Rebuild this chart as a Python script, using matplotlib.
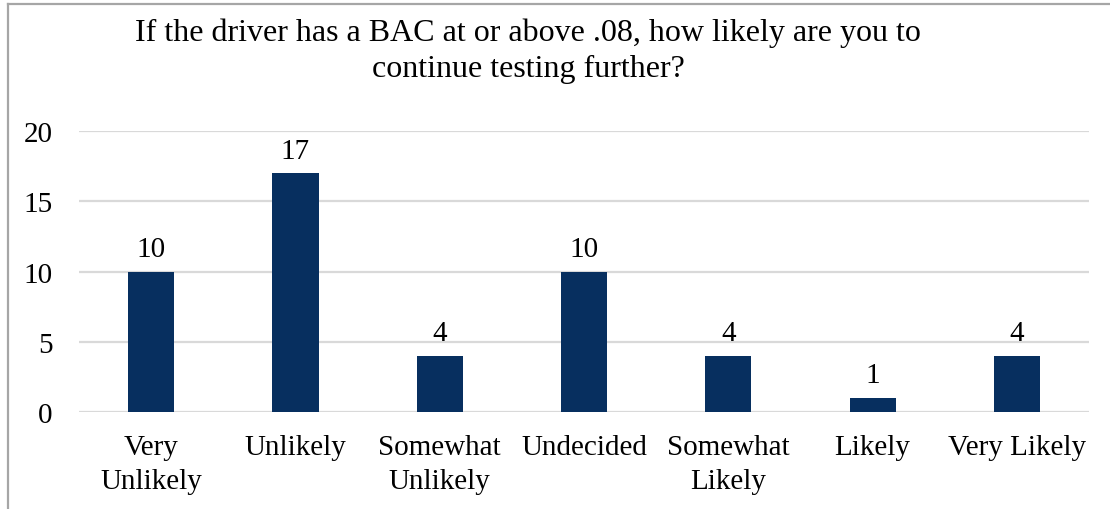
import matplotlib
matplotlib.use("Agg")
import matplotlib.pyplot as plt
from matplotlib.lines import Line2D

# ============================================
# DATOS
# ============================================

categorias = ["Very\nUnlikely", "Unlikely", "Somewhat\nUnlikely", "Undecided",
              "Somewhat\nLikely", "Likely", "Very Likely"]
valores = [10, 17, 4, 10, 4, 1, 4]
yticks = [0, 5, 10, 15, 20]

titulo = ("If the driver has a BAC at or above .08, how likely are you to\n"
          "continue testing further?")

# ============================================
# FIGURA
# ============================================

plt.rcParams["font.family"] = ["Liberation Serif", "DejaVu Serif"]

fig = plt.figure(figsize=(11.1, 5.1), dpi=100)
ax = fig.add_axes([0.0712, 0.190, 0.910, 0.551])

x = range(len(categorias))
bars = ax.bar(x, valores, width=0.32, color="#072F5F", zorder=3)

for b, v in zip(bars, valores):
    ax.annotate(str(v), (b.get_x() + b.get_width() / 2, v),
                xytext=(0, 7), textcoords="offset points",
                ha="center", va="bottom", fontsize=21, color="#000000")

ax.set_xlim(-0.5, len(categorias) - 0.5)
ax.set_ylim(0, 20)
ax.set_yticks(yticks)
ax.set_xticks(list(x))
ax.set_xticklabels(categorias, fontsize=21, linespacing=1.4)
ax.tick_params(axis="y", length=0, pad=19, labelsize=21)
ax.tick_params(axis="x", length=0, pad=16)

ax.grid(axis="y", color="#D9D9D9", linewidth=1.6, zorder=0)
for s in ax.spines.values():
    s.set_visible(False)

fig.text(0.476, 0.900, titulo, ha="center", va="center",
         fontsize=23, linespacing=1.3)

# borde del grafico
borde = "#A6A6A6"
fig.add_artist(Line2D([0.0075, 0.0075], [0, 0.99], color=borde, lw=1.6,
                      transform=fig.transFigure))
fig.add_artist(Line2D([0.0075, 1.0], [0.99, 0.99], color=borde, lw=1.6,
                      transform=fig.transFigure))

fig.savefig("out.png", dpi=100)
